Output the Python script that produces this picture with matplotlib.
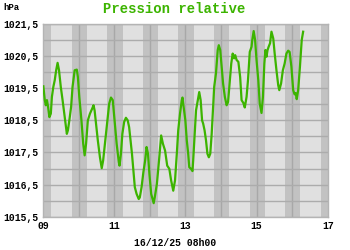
import matplotlib
matplotlib.use("Agg")
import matplotlib.pyplot as plt

# jours (fraction de jour du mois) et pression relative (hPa)
days = [9.01, 9.05, 9.08, 9.11, 9.14, 9.18, 9.22, 9.25, 9.29, 9.33, 9.37, 9.41,
        9.45, 9.50, 9.55, 9.61, 9.67, 9.70, 9.74, 9.79, 9.83, 9.89, 9.95, 9.98,
        10.02, 10.08, 10.13, 10.17, 10.21, 10.26, 10.32, 10.38, 10.42, 10.45,
        10.49, 10.54, 10.60, 10.65, 10.69, 10.75, 10.81, 10.86, 10.91, 10.96,
        11.01, 11.07, 11.13, 11.15, 11.19, 11.23, 11.28, 11.33, 11.38, 11.42,
        11.46, 11.50, 11.54, 11.58, 11.63, 11.69, 11.72, 11.77, 11.82, 11.87,
        11.91, 11.95, 11.99, 12.04, 12.11, 12.14, 12.20, 12.26, 12.32, 12.37,
        12.43, 12.49, 12.55, 12.60, 12.66, 12.71, 12.76, 12.80, 12.85, 12.90,
        12.92, 12.94, 13.00, 13.04, 13.08, 13.11, 13.16, 13.20, 13.22, 13.27,
        13.30, 13.35, 13.39, 13.43, 13.47, 13.50, 13.54, 13.58, 13.62, 13.66,
        13.70, 13.74, 13.78, 13.81, 13.86, 13.91, 13.94, 13.98, 14.02, 14.06,
        14.11, 14.16, 14.20, 14.25, 14.29, 14.33, 14.37, 14.40, 14.44, 14.49,
        14.54, 14.58, 14.63, 14.67, 14.72, 14.76, 14.81, 14.86, 14.88, 14.92,
        14.96, 15.00, 15.05, 15.09, 15.14, 15.18, 15.22, 15.25, 15.28, 15.31,
        15.34, 15.38, 15.42, 15.47, 15.51, 15.56, 15.61, 15.64, 15.69, 15.74,
        15.79, 15.84, 15.89, 15.93, 15.98, 16.03, 16.07, 16.10, 16.13, 16.17,
        16.22, 16.27, 16.31]
pression = [1019.56, 1019.13, 1018.97, 1019.13, 1018.94, 1018.60, 1018.71, 1019.23,
            1019.54, 1019.75, 1020.06, 1020.29, 1020.06, 1019.54, 1019.13, 1018.60,
            1018.08, 1018.19, 1018.50, 1018.92, 1019.54, 1020.06, 1020.08, 1019.85,
            1019.23, 1018.50, 1017.77, 1017.41, 1017.77, 1018.50, 1018.71, 1018.86,
            1018.97, 1018.81, 1018.40, 1017.88, 1017.35, 1017.01, 1017.25, 1017.88,
            1018.50, 1019.02, 1019.21, 1019.13, 1018.50, 1017.77, 1017.20, 1017.09,
            1017.46, 1018.08, 1018.45, 1018.58, 1018.50, 1018.29, 1017.88, 1017.46,
            1016.94, 1016.42, 1016.21, 1016.05, 1016.10, 1016.42, 1016.88, 1017.25,
            1017.67, 1017.46, 1016.83, 1016.21, 1015.92, 1016.10, 1016.52, 1017.25,
            1018.03, 1017.77, 1017.56, 1017.09, 1016.99, 1016.63, 1016.31, 1016.63,
            1017.46, 1018.19, 1018.71, 1019.13, 1019.21, 1019.02, 1018.50, 1017.88,
            1017.46, 1017.04, 1016.99, 1016.92, 1017.25, 1018.19, 1018.81, 1019.13,
            1019.38, 1019.13, 1018.50, 1018.40, 1018.19, 1017.88, 1017.46, 1017.35,
            1017.46, 1018.08, 1018.92, 1019.54, 1019.96, 1020.69, 1020.84, 1020.69,
            1020.17, 1019.65, 1019.23, 1018.97, 1019.07, 1019.75, 1020.27, 1020.58,
            1020.43, 1020.53, 1020.38, 1020.32, 1019.85, 1019.13, 1019.04, 1018.90,
            1019.23, 1019.75, 1020.63, 1020.79, 1021.00, 1021.28, 1021.00, 1020.38,
            1019.75, 1019.02, 1018.73, 1019.23, 1020.27, 1020.69, 1020.48, 1020.69,
            1020.79, 1020.90, 1021.26, 1021.05, 1020.58, 1020.06, 1019.59, 1019.44,
            1019.65, 1020.06, 1020.27, 1020.58, 1020.67, 1020.63, 1020.17, 1019.44,
            1019.31, 1019.35, 1019.16, 1019.44, 1020.17, 1021.00, 1021.26]

x_ticks = [9, 11, 13, 15, 17]
x_labels = ["09", "11", "13", "15", "17"]
y_ticks = [1015.5, 1016.5, 1017.5, 1018.5, 1019.5, 1020.5, 1021.5]
y_labels = ["1015,5", "1016,5", "1017,5", "1018,5", "1019,5", "1020,5", "1021,5"]
nuit_debut, nuit_fin = 0.805, 1.235  # fraction du jour

VERT = "#3cb400"
MONO = "Liberation Mono"

fig = plt.figure(figsize=(3.5, 2.5), dpi=100)
ax = fig.add_axes([43 / 350, 1 - 216.7 / 250, 284.7 / 350, 192.7 / 250])
ax.set_facecolor("#e0e0e0")
ax.set_xlim(9, 17)
ax.set_ylim(1015.5, 1021.5)

for d in range(8, 17):
    ax.axvspan(d + nuit_debut, d + nuit_fin, color="#c2c2c2", lw=0, zorder=0)
for d in range(10, 17):
    ax.axvline(d, color="#a8a8a8", lw=1, zorder=1)
y = 1015.5
while y < 1021.6:
    ax.axhline(y, color="#acacac", lw=1, zorder=1)
    y += 0.5

ax.plot(days, pression, color=VERT, lw=1.6, zorder=3)

ax.set_xticks(x_ticks)
ax.set_xticklabels(x_labels, family=MONO, fontweight="bold", fontsize=7)
ax.set_yticks(y_ticks)
ax.set_yticklabels(y_labels, family=MONO, fontweight="bold", fontsize=7)
ax.tick_params(length=0, pad=3)
for s in ax.spines.values():
    s.set_color("#b4b4b4")
    s.set_linewidth(1)

fig.text(174 / 350, 1 - 9 / 250, "Pression relative", color=VERT, family=MONO,
         fontweight="bold", fontsize=10, ha="center", va="center")
fig.text(3 / 350, 1 - 7 / 250, "hPa", family=MONO, fontweight="bold",
         fontsize=6.5, ha="left", va="center")
fig.text(175 / 350, 1 - 243 / 250, "16/12/25 08h00", family=MONO,
         fontweight="bold", fontsize=7, ha="center", va="center")

fig.savefig("out.png", dpi=100)
